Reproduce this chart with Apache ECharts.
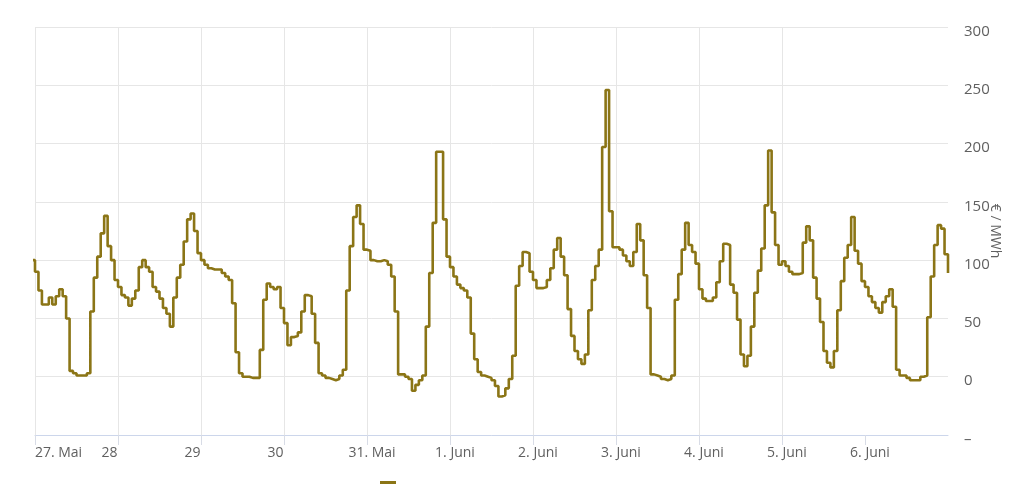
<!DOCTYPE html>
<html>
<head>
<meta charset="utf-8">
<script src="https://cdn.jsdelivr.net/npm/echarts@6/dist/echarts.min.js"></script>
<style>html,body{margin:0;padding:0;background:#fff}#c{width:1024px;height:493px}</style>
</head>
<body>
<div id="c"></div>
<script>
// Tick labels of the x axis (one per day, 00:00)
const dayLabels = ['27. Mai', '28', '29', '30', '31. Mai', '1. Juni', '2. Juni', '3. Juni', '4. Juni', '5. Juni', '6. Juni'];
// Hourly prices in €/MWh
const lastHourBefore = [100];            // 26 May 23:00
const may27 = [90, 74, 62, 62, 68, 62, 69, 75, 69, 50, 5, 3, 1, 1, 1, 3, 56, 85, 103, 123, 138, 112, 100, 83];
const may28 = [77, 70, 68, 61, 67, 74, 94, 100, 94, 90, 77, 73, 67, 59, 54, 43, 68, 85, 96, 116, 135, 140, 125, 106];
const may29 = [100, 96, 93, 92, 92, 92, 89, 86, 83, 63, 21, 3, 0, 0, -1, -1, -1, 23, 66, 80, 77, 75, 77, 59];
const may30 = [46, 27, 34, 35, 38, 56, 70, 69, 54, 29, 3, 1, -1, -2, -3, -2, 1, 6, 74, 112, 137, 147, 131, 109];
const may31 = [108, 100, 99, 99, 100, 99, 96, 86, 56, 2, 2, 0, -2, -12, -7, -3, 1, 43, 89, 132, 193, 193, 135, 103];
const jun01 = [94, 86, 79, 76, 74, 68, 37, 15, 4, 1, 0, -1, -3, -8, -17, -16, -10, -2, 18, 78, 95, 107, 106, 90];
const jun02 = [83, 76, 76, 77, 83, 93, 109, 119, 103, 87, 58, 35, 22, 15, 11, 19, 57, 83, 95, 109, 197, 246, 142, 111];
const jun03 = [111, 109, 104, 99, 95, 107, 131, 117, 87, 59, 2, 1, 0, -2, -3, -2, 1, 66, 88, 109, 132, 113, 107, 97];
const jun04 = [75, 67, 65, 65, 68, 81, 99, 114, 113, 79, 72, 49, 19, 9, 18, 43, 72, 91, 110, 147, 194, 141, 113, 96];
const jun05 = [99, 95, 90, 88, 88, 89, 115, 129, 117, 85, 67, 47, 22, 12, 8, 22, 57, 82, 102, 113, 137, 108, 97, 82];
const jun06 = [77, 69, 64, 59, 55, 64, 69, 75, 60, 6, 1, 1, -1, -3, -3, -3, 0, 1, 51, 86, 113, 130, 127, 105];
const firstHourAfter = [89];             // 7 Jun 00:00

const prices = [].concat(lastHourBefore, may27, may28, may29, may30, may31, jun01, jun02, jun03, jun04, jun05, jun06, firstHourAfter);
const data = prices.map((v, i) => [i - 1, v]);   // x = hours since 27 May 00:00

const chart = echarts.init(document.getElementById('c'), null, {renderer: 'canvas'});
const FONT = '"Open Sans", "Noto Sans", sans-serif';
const dayTicks = dayLabels.map((_, i) => i * 24);

chart.setOption({
  animation: false,
  backgroundColor: '#ffffff',
  grid: {left: 35, right: 76, top: 27, bottom: 58, containLabel: false},
  legend: {
    left: 380, top: 481, padding: 0, itemWidth: 16, itemHeight: 3, icon: 'rect',
    itemGap: 0, formatter: () => '', textStyle: {fontSize: 1}, selectedMode: false
  },
  xAxis: {
    type: 'value', min: 0, max: 264, interval: 24,
    axisLine: {onZero: false, lineStyle: {color: '#ccd6eb', width: 1}},
    axisTick: {show: true, length: 10, lineStyle: {color: '#d8dce6'}, customValues: dayTicks},
    splitLine: {show: true, showMaxLine: false, lineStyle: {color: '#e6e6e6', width: 1}},
    axisLabel: {
      customValues: dayTicks,
      color: '#606060', fontSize: 14, fontFamily: FONT, margin: 11,
      formatter: (v) => {
        const i = Math.round(v / 24);
        const t = dayLabels[i];
        if (t === undefined) return '';
        if (i === 0) return '{l|' + t + '}';
        if (t.length <= 2) return '{r|' + t + '}';
        return '{c|' + t + '}';
      },
      rich: {
        l: {color: '#606060', fontSize: 14, fontFamily: FONT, padding: [0, 0, 0, 47]},
        r: {color: '#606060', fontSize: 14, fontFamily: FONT, padding: [0, 17, 0, 0]},
        c: {color: '#606060', fontSize: 14, fontFamily: FONT, padding: [0, 0, 0, 10]}
      }
    }
  },
  yAxis: {
    type: 'value', position: 'right', min: -50, max: 300, interval: 50,
    axisLine: {show: false}, axisTick: {show: false},
    splitLine: {show: true, lineStyle: {color: '#e6e6e6', width: 1}},
    axisLabel: {
      color: '#606060', fontSize: 15, fontFamily: FONT, margin: 16,
      formatter: (v) => '{a|' + (v < 0 ? '–' : String(v)) + '}',
      rich: {a: {color: '#606060', fontSize: 15, fontFamily: FONT, padding: [9, 0, 0, 0]}}
    },
    name: '€ / MWh', nameLocation: 'middle', nameRotate: -90, nameGap: 40,
    nameMoveOverlap: false,
    nameTextStyle: {color: '#606060', fontSize: 14, fontFamily: FONT}
  },
  series: [{
    name: 'Preis', type: 'line', step: 'end', data: data,
    showSymbol: false, symbol: 'none', clip: true,
    lineStyle: {color: '#8b7516', width: 2.6},
    itemStyle: {color: '#8b7516'}
  }]
});
</script>
</body>
</html>
